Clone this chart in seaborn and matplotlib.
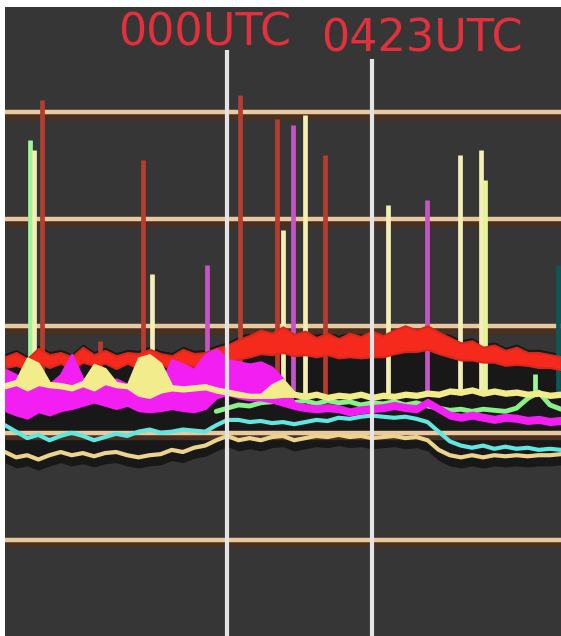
import numpy as np
import pandas as pd
import matplotlib
matplotlib.use("Agg")
import matplotlib.pyplot as plt
import seaborn as sns

# Step 1: data (x = time steps, y = amplitude, grid every 10)
t = np.arange(0, 101, 2)

red = [16.6, 16.9, 16.4, 17.2, 16.7, 17.0, 16.5, 17.3, 16.8, 17.1,
       16.6, 17.0, 16.7, 17.2, 16.9, 16.6, 17.1, 16.8, 17.0, 17.2,
       17.4, 17.8, 18.1, 18.5, 18.3, 18.7, 18.2, 18.4, 18.0, 18.3,
       17.9, 18.2, 18.0, 18.3, 18.1, 18.5, 18.8, 18.6, 18.9, 18.4,
       18.0, 17.6, 17.7, 17.3, 17.4, 17.0, 17.2, 16.9, 16.8, 16.7, 16.5]
red_spread = [0.5, 0.6, 0.5, 0.7, 0.6, 0.5, 0.6, 0.7, 0.5, 0.6,
              0.6, 0.5, 0.7, 0.6, 0.5, 0.6, 0.7, 0.6, 0.5, 0.7,
              0.8, 0.9, 1.0, 1.1, 1.0, 1.2, 1.0, 1.1, 0.9, 1.0,
              0.9, 1.1, 1.0, 1.2, 1.0, 1.1, 1.2, 1.0, 1.1, 1.0,
              0.9, 0.8, 0.9, 0.7, 0.8, 0.7, 0.8, 0.6, 0.7, 0.6, 0.6]

magenta_hi = [15.9, 15.4, 14.5, 15.0, 14.5, 15.4, 17.3, 15.0, 15.1, 14.5,
              15.0, 14.5, 13.6, 13.6, 14.5, 16.8, 16.4, 15.9, 17.3, 17.8,
              16.8, 16.6, 16.4, 16.6, 16.1, 15.0, 12.8, 12.6, 12.5, 12.6,
              12.5, 12.2, 12.4, 12.5, 12.6, 12.8, 12.6, 12.5, 13.1, 12.5,
              11.9, 11.7, 11.9, 11.7, 11.5, 11.7, 11.6, 11.4, 11.5, 11.3, 11.4]
magenta_lo = [12.1, 11.7, 11.4, 12.0, 11.7, 12.1, 12.3, 12.6, 12.9, 12.6,
              12.3, 12.6, 12.1, 12.0, 12.1, 12.3, 12.1, 12.0, 12.3, 13.3,
              13.6, 13.3, 13.1, 13.1, 12.9, 12.6, 12.3, 12.1, 12.0, 12.1,
              12.0, 11.7, 11.9, 12.0, 12.1, 12.3, 12.1, 12.0, 12.6, 12.0,
              11.4, 11.2, 11.4, 11.2, 11.0, 11.2, 11.1, 10.9, 11.0, 10.8, 10.9]

yellow_hi = [14.6, 14.9, 17.0, 16.5, 14.7, 14.6, 14.4, 14.8, 16.4, 16.0,
             14.7, 14.5, 17.0, 17.3, 16.5, 14.4, 14.3, 14.4, 14.5, 14.2,
             14.0, 13.8, 13.6, 13.6, 14.5, 15.0, 13.8, 13.6, 13.8, 13.5,
             13.7, 13.6, 13.8, 13.5, 13.7, 13.6, 13.8, 13.7, 13.9, 13.8,
             14.1, 14.0, 14.2, 13.9, 14.1, 13.9, 14.0, 13.8, 13.9, 13.7, 13.8]
yellow_lo = [14.2, 14.5, 14.0, 14.5, 14.3, 14.2, 14.0, 14.4, 14.0, 14.6,
             14.3, 14.2, 13.5, 13.3, 13.8, 14.0, 13.9, 14.0, 14.1, 13.8,
             13.6, 13.4, 13.3, 13.3, 13.3, 13.4, 13.4, 13.2, 13.4, 13.1,
             13.3, 13.2, 13.4, 13.1, 13.3, 13.2, 13.4, 13.3, 13.5, 13.4,
             13.7, 13.6, 13.8, 13.5, 13.7, 13.5, 13.6, 13.4, 13.5, 13.3, 13.4]

green_t = np.arange(38, 101, 2)
green = [12.0, 12.3, 12.6, 12.5, 12.8, 12.9, 13.1, 12.8, 13.0, 12.7,
         13.0, 12.8, 12.9, 12.6, 12.8, 12.7, 12.9, 12.6, 12.8, 12.5,
         12.3, 12.1, 12.2, 12.0, 12.2, 12.1, 12.0, 12.3, 13.2, 13.8, 12.6, 12.2]

cyan = [10.7, 10.1, 9.5, 9.8, 9.3, 9.7, 10.0, 9.7, 9.3, 9.6,
        9.9, 9.7, 10.1, 10.3, 10.0, 10.1, 10.3, 10.2, 10.1, 10.7,
        11.2, 11.2, 11.0, 11.1, 10.9, 11.0, 10.8, 11.0, 11.2, 11.1,
        11.4, 11.3, 11.5, 11.6, 11.5, 11.4, 11.5, 11.3, 11.0, 10.1,
        9.2, 8.8, 8.6, 8.8, 8.5, 8.7, 8.5, 8.6, 8.4, 8.5, 8.4]

tan = [8.2, 7.7, 7.9, 7.5, 7.9, 8.2, 7.9, 8.1, 7.8, 8.1,
       8.2, 7.9, 7.7, 7.9, 8.0, 8.4, 8.2, 8.6, 8.8, 9.3,
       9.7, 9.3, 9.5, 9.3, 9.6, 9.7, 9.3, 9.5, 9.7, 9.6,
       9.8, 9.6, 9.7, 9.5, 9.6, 9.7, 9.5, 9.6, 9.3, 8.4,
       7.9, 7.7, 7.9, 7.7, 7.9, 7.8, 7.9, 7.8, 7.9, 7.9, 8.0]

# impulse spikes: time, peak amplitude, channel
spike_t = [4.5, 5.2, 6.7, 17.1, 24.8, 26.4, 36.3, 42.3, 48.9, 50.0,
           51.8, 54.0, 57.6, 68.9, 75.9, 81.8, 85.6, 86.3, 95.3, 99.5]
spike_peak = [37.4, 36.4, 41.1, 18.6, 35.5, 24.8, 25.7, 41.6, 39.3, 29.0,
              38.8, 39.7, 36.0, 31.3, 31.8, 36.0, 36.4, 33.6, 15.5, 25.7]
spike_chan = ["green", "yellow", "red", "red", "red", "yellow", "magenta", "red", "red", "yellow",
              "magenta", "yellow", "red", "yellow", "magenta", "yellow", "yellow", "lime", "green", "teal"]

grid_levels = [0, 10, 20, 30, 40]
marker_t = [40, 66]
marker_top = [45.8, 44.9]
marker_labels = ["000UTC", "0423UTC"]
label_t = [36, 75]
label_y = [47.4, 46.8]

spike_colors = {"red": "#b53d30", "yellow": "#f4efb4", "magenta": "#c456c4",
                "green": "#9ef59a", "lime": "#e6f59a", "teal": "#0c5858"}

# Step 2: plot
sns.set_style("dark")
fig = plt.figure(figsize=(5.61, 6.36), dpi=100)
ax = fig.add_axes([5 / 561, 0, 556 / 561, 629 / 636])
ax.set_facecolor("#363636")

red_a = np.array(red)
red_s = np.array(red_spread)

# dark band behind the traces
ax.fill_between(t, np.array(tan) - 1.0, red_a + red_s + 0.3, color="#0c0c0c", alpha=0.7, lw=0, zorder=1)

for lv in grid_levels:
    ax.axhline(lv - 0.35, color="#4a3020", lw=6, zorder=1.2)
    ax.axhline(lv, color="#e8c9a0", lw=3.2, zorder=1.3)

for x, top, ch in zip(spike_t, spike_peak, spike_chan):
    ax.vlines(x, 13.5, top, color=spike_colors[ch], lw=3.4, zorder=2)

sns.lineplot(x=t, y=tan, color="#ecd48e", lw=3, ax=ax, zorder=3)
sns.lineplot(x=t, y=cyan, color="#62e6e0", lw=3, ax=ax, zorder=3.1)
sns.lineplot(x=green_t, y=green, color="#8af08a", lw=3.5, ax=ax, zorder=3.2)
ax.fill_between(t, red_a - red_s, red_a + red_s, color="#f52a1c", lw=1.5, edgecolor="#d8281c", zorder=3.25)
ax.fill_between(t, magenta_lo, magenta_hi, color="#f21ef2", lw=2, edgecolor="#f21ef2", zorder=3.3)
ax.fill_between(t, yellow_lo, yellow_hi, color="#f3ec8c", lw=1.5, edgecolor="#f3ec8c", zorder=3.4)

for x, top in zip(marker_t, marker_top):
    ax.vlines(x, -10, top, color="#e4e4e4", lw=3, zorder=4)

for x, y, s in zip(label_t, label_y, marker_labels):
    ax.text(x, y, s, color="#e2303c", fontsize=32, ha="center", va="center", zorder=5)

ax.set_xlim(0, 100)
ax.set_ylim(-9, 49.8)
ax.set_xticks([])
ax.set_yticks([])
ax.set_xlabel("")
ax.set_ylabel("")
for s in ax.spines.values():
    s.set_visible(False)

fig.savefig("out.png", dpi=100)
